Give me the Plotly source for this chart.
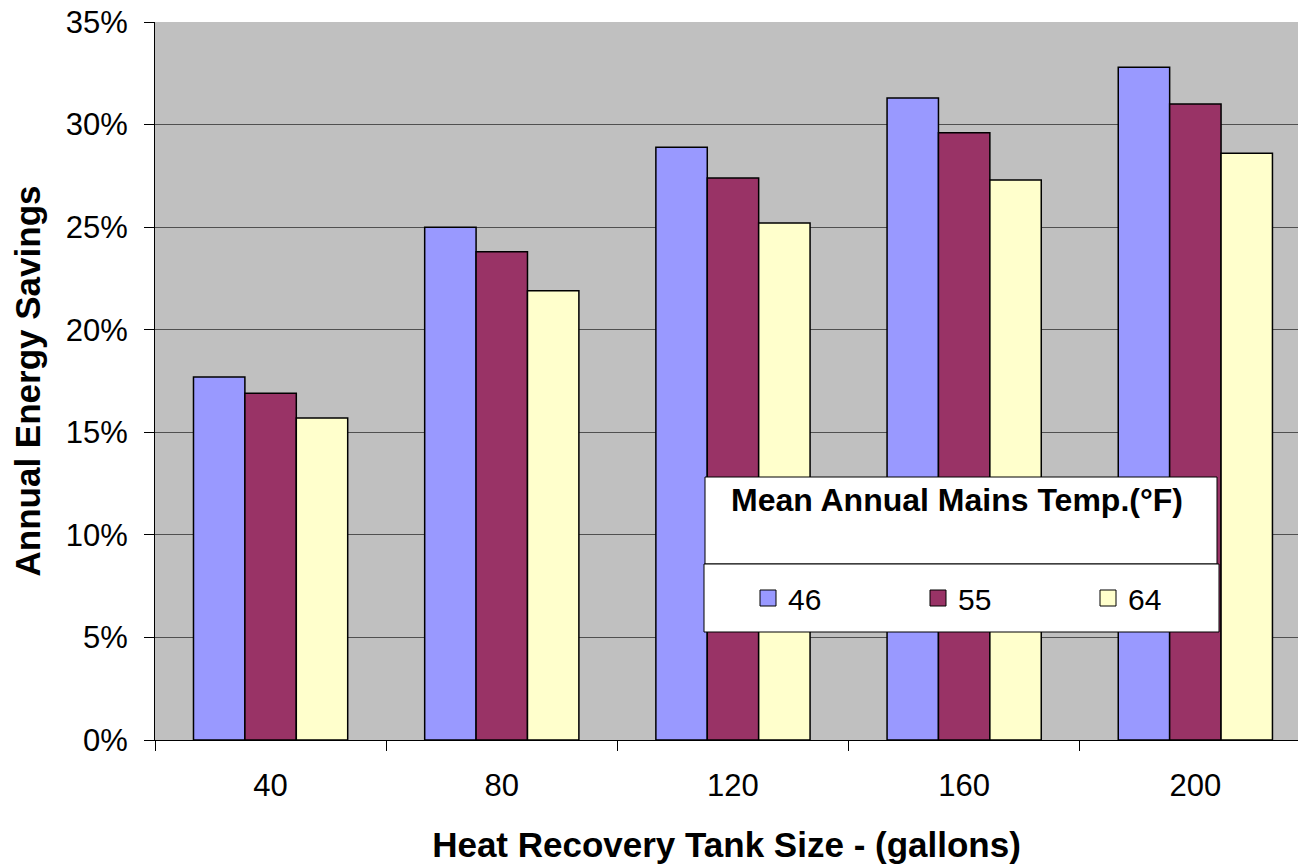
import plotly.graph_objects as go

# Annual energy savings (%) by heat recovery tank size, per mains temperature
tank_sizes = ["40", "80", "120", "160", "200"]
mains_temps = ["46", "55", "64"]
savings_46 = [17.7, 25.0, 28.9, 31.3, 32.8]
savings_55 = [16.9, 23.8, 27.4, 29.6, 31.0]
savings_64 = [15.7, 21.9, 25.2, 27.3, 28.6]
y_ticks = [0, 5, 10, 15, 20, 25, 30, 35]
y_tick_labels = ["0%", "5%", "10%", "15%", "20%", "25%", "30%", "35%"]

colors = ["#9999FF", "#993366", "#FFFFCC"]
series = [savings_46, savings_55, savings_64]

FONT = "Liberation Sans, Arial, sans-serif"

fig = go.Figure()
for name, vals, col in zip(mains_temps, series, colors):
    fig.add_trace(go.Bar(
        x=tank_sizes, y=vals, name=name, showlegend=False,
        marker=dict(color=col, line=dict(color="black", width=1.5)),
    ))
# legend swatches
for name, col in zip(mains_temps, colors):
    fig.add_trace(go.Scatter(
        x=[None], y=[None], mode="markers", name=name,
        marker=dict(symbol="square", size=20, color=col,
                    line=dict(color="black", width=1)),
    ))

W, H = 1298, 866
L, R, T, B = 155, 0, 22, 126
pw, ph = W - L - R, H - T - B


def px_x(p):
    return (p - L) / pw


def px_y(p):
    return (H - B - p) / ph


# legend frame: title box over the entries box
fig.add_shape(type="rect", xref="paper", yref="paper",
              x0=px_x(705), x1=px_x(1217), y0=px_y(564), y1=px_y(477),
              fillcolor="white", line=dict(color="black", width=1), layer="above")
fig.add_shape(type="rect", xref="paper", yref="paper",
              x0=px_x(704), x1=px_x(1219), y0=px_y(632), y1=px_y(564),
              fillcolor="white", line=dict(color="black", width=1), layer="above")
fig.add_annotation(text="<b>Mean Annual Mains Temp.(°F)</b>", xref="paper", yref="paper",
                   x=px_x(957), y=px_y(500), xanchor="center", yanchor="middle",
                   showarrow=False,
                   font=dict(family=FONT, size=32, color="black"))

fig.update_layout(
    width=W, height=H,
    margin=dict(l=L, r=R, t=T, b=B),
    paper_bgcolor="white", plot_bgcolor="#C0C0C0",
    barmode="group", bargap=0.333, bargroupgap=0,
    font=dict(family=FONT, color="black"),
    legend=dict(orientation="h", x=px_x(748), y=px_y(598), xanchor="left", yanchor="middle",
                bgcolor="rgba(0,0,0,0)", font=dict(size=30, family=FONT),
                entrywidth=125, entrywidthmode="pixels", itemsizing="trace"),
    xaxis=dict(
        type="category", range=[-0.5, 4.444],
        showline=True, linecolor="black", linewidth=1,
        ticks="outside", tickson="boundaries", ticklen=10, tickcolor="black",
        tickfont=dict(size=31), ticklabelstandoff=18, showgrid=False,
        title=dict(text="<b>Heat Recovery Tank Size - (gallons)</b>",
                   font=dict(size=35), standoff=30),
    ),
    yaxis=dict(
        range=[0, 35], tickvals=y_ticks, ticktext=y_tick_labels,
        showline=True, linecolor="black", linewidth=1,
        ticks="outside", ticklen=10, tickcolor="black",
        tickfont=dict(size=31), ticklabelstandoff=10,
        showgrid=True, gridcolor="#505050", gridwidth=1,
        zeroline=False,
        title=dict(text="<b>Annual Energy Savings</b>", font=dict(size=35), standoff=14),
    ),
)

fig.write_html("out.html")
